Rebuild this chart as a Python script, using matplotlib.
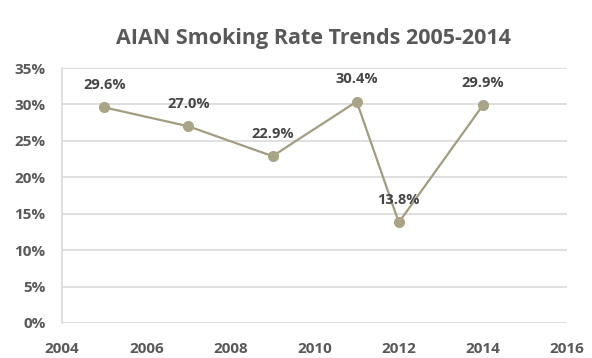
import matplotlib.pyplot as plt
from matplotlib.ticker import FuncFormatter

years = [2005, 2007, 2009, 2011, 2012, 2014]
rates = [29.6, 27.0, 22.9, 30.4, 13.8, 29.9]
labels = ["29.6%", "27.0%", "22.9%", "30.4%", "13.8%", "29.9%"]
xticks = [2004, 2006, 2008, 2010, 2012, 2014, 2016]
yticks = [0, 5, 10, 15, 20, 25, 30, 35]

plt.rcParams['font.family'] = ['Open Sans', 'DejaVu Sans']
txt = '#595959'
line_c = '#a39d80'

fig = plt.figure(figsize=(5.92, 3.58), dpi=100)
ax = fig.add_axes([0.105, 0.098, 0.853, 0.712])

ax.plot(years, rates, color=line_c, lw=1.6, marker='o', ms=7,
        mfc='#aaa487', mec='#aaa487', zorder=3)
for x, y, s in zip(years, rates, labels):
    ax.annotate(s, (x, y), xytext=(0, 11), textcoords='offset points',
                ha='center', va='bottom', fontsize=10.5, fontweight='bold',
                color='#454545')

ax.set_xlim(2004, 2016)
ax.set_ylim(0, 35)
ax.set_xticks(xticks)
ax.set_yticks(yticks)
ax.yaxis.set_major_formatter(FuncFormatter(lambda v, p: f"{v:.0f}%"))
ax.grid(axis='y', color='#d9d9d9', lw=1.2)
ax.set_axisbelow(True)
for side in ['top', 'right', 'bottom']:
    ax.spines[side].set_visible(False)
ax.spines['left'].set_color('#d9d9d9')
ax.spines['left'].set_linewidth(1.2)
ax.tick_params(length=0, labelsize=11, labelcolor=txt)
ax.tick_params(axis='x', pad=14)
ax.tick_params(axis='y', pad=12)
for t in ax.get_xticklabels() + ax.get_yticklabels():
    t.set_fontweight('bold')

fig.text(0.53, 0.893, "AIAN Smoking Rate Trends 2005-2014", ha='center',
         va='center', fontsize=15.5, fontweight='bold', color=txt)

fig.savefig('out.png')
